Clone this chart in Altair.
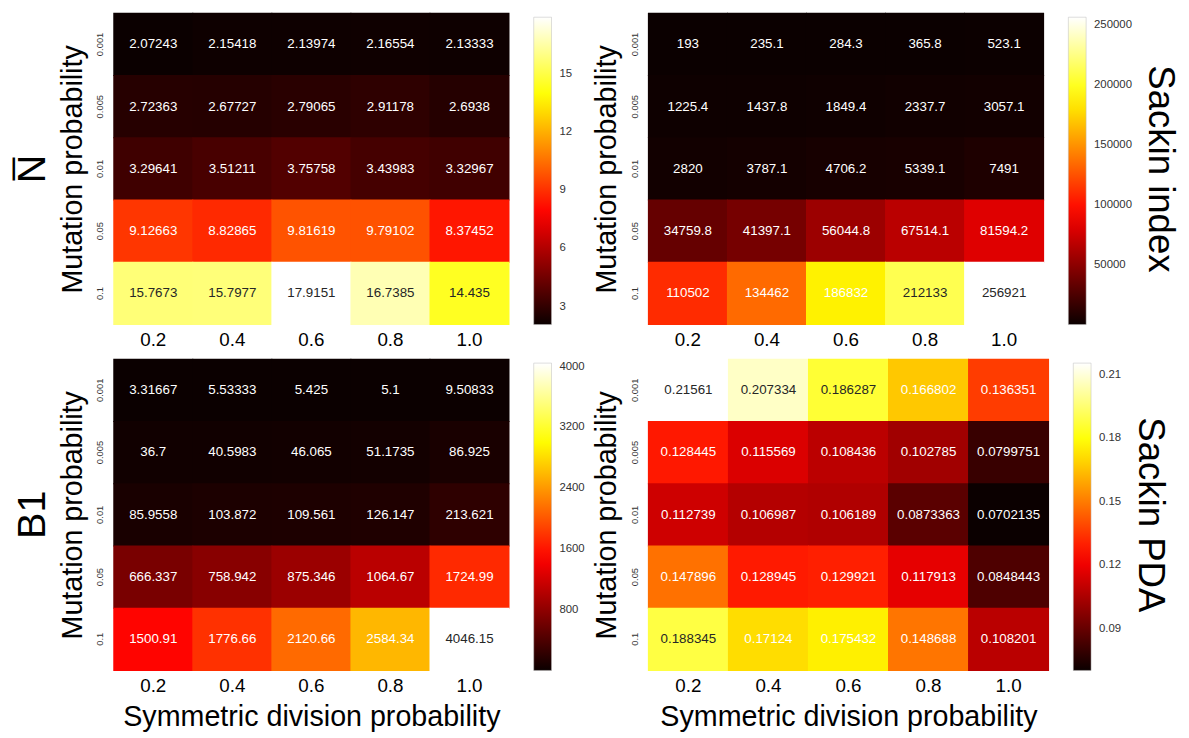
import altair as alt
import pandas as pd

FONT = "Liberation Sans"

# Tick labels
sym_labels = ["0.2", "0.4", "0.6", "0.8", "1.0"]
mut_labels = ["0.001", "0.005", "0.01", "0.05", "0.1"]

# Values: rows = mutation probability (top to bottom), cols = symmetric division probability
nbar_vals = [
    [2.07243, 2.15418, 2.13974, 2.16554, 2.13333],
    [2.72363, 2.67727, 2.79065, 2.91178, 2.6938],
    [3.29641, 3.51211, 3.75758, 3.43983, 3.32967],
    [9.12663, 8.82865, 9.81619, 9.79102, 8.37452],
    [15.7673, 15.7977, 17.9151, 16.7385, 14.435],
]
sackin_vals = [
    [193, 235.1, 284.3, 365.8, 523.1],
    [1225.4, 1437.8, 1849.4, 2337.7, 3057.1],
    [2820, 3787.1, 4706.2, 5339.1, 7491],
    [34759.8, 41397.1, 56044.8, 67514.1, 81594.2],
    [110502, 134462, 186832, 212133, 256921],
]
b1_vals = [
    [3.31667, 5.53333, 5.425, 5.1, 9.50833],
    [36.7, 40.5983, 46.065, 51.1735, 86.925],
    [85.9558, 103.872, 109.561, 126.147, 213.621],
    [666.337, 758.942, 875.346, 1064.67, 1724.99],
    [1500.91, 1776.66, 2120.66, 2584.34, 4046.15],
]
pda_vals = [
    [0.21561, 0.207334, 0.186287, 0.166802, 0.136351],
    [0.128445, 0.115569, 0.108436, 0.102785, 0.0799751],
    [0.112739, 0.106987, 0.106189, 0.0873363, 0.0702135],
    [0.147896, 0.128945, 0.129921, 0.117913, 0.0848443],
    [0.188345, 0.17124, 0.175432, 0.148688, 0.108201],
]

# Colorbar tick values
nbar_ticks = [3, 6, 9, 12, 15]
sackin_ticks = [50000, 100000, 150000, 200000, 250000]
b1_ticks = [800, 1600, 2400, 3200, 4000]
pda_ticks = [0.09, 0.12, 0.15, 0.18, 0.21]

# matplotlib "hot" colormap breakpoints
HOT_STOPS = [0.0, 0.365079, 0.746032, 1.0]
HOT_COLORS = ["#0b0000", "#ff0000", "#ffff00", "#ffffff"]


def panel(vals, w, h, ticks, fmt, left=None, right=None, xtitle=False):
    flat = [v for r in vals for v in r]
    lo, hi = min(flat), max(flat)
    rows = []
    for i, m in enumerate(mut_labels):
        for j, s in enumerate(sym_labels):
            v = vals[i][j]
            rows.append({"mut": m, "sym": s, "v": v, "norm": (v - lo) / (hi - lo)})
    df = pd.DataFrame(rows)
    dom = [lo + f * (hi - lo) for f in HOT_STOPS]

    x = alt.X(
        "sym:O", sort=sym_labels,
        title="Symmetric division probability" if xtitle else None,
        scale=alt.Scale(paddingInner=0, paddingOuter=0),
        axis=alt.Axis(labelAngle=0, labelFontSize=19, labelColor="#000", labelFont=FONT,
                      labelPadding=6, ticks=False, tickSize=0, domain=False,
                      titleFontSize=29, titleFont=FONT, titleFontWeight="normal",
                      titleColor="#000", titlePadding=8),
    )
    y = alt.Y(
        "mut:O", sort=mut_labels, title="Mutation probability",
        scale=alt.Scale(paddingInner=0, paddingOuter=0),
        axis=alt.Axis(labelAngle=270, labelAlign="center", labelBaseline="bottom",
                      labelFontSize=9.5, labelColor="#333", labelFont=FONT,
                      labelPadding=9, ticks=False, tickSize=0, domain=False,
                      titleFontSize=29, titleFont=FONT, titleFontWeight="normal",
                      titleColor="#000", titlePadding=8),
    )
    rect = alt.Chart(df).mark_rect(
        strokeWidth=0,
        width=alt.RelativeBandSize(1.012),
        height=alt.RelativeBandSize(1.015),
    ).encode(
        x=x, y=y,
        color=alt.Color(
            "v:Q",
            scale=alt.Scale(domain=dom, range=HOT_COLORS, interpolate="rgb"),
            legend=alt.Legend(
                type="gradient", orient="right", direction="vertical", title=None,
                values=ticks, format=fmt, offset=21, padding=4,
                gradientLength=h - 4, gradientThickness=18,
                gradientStrokeColor="#bbbbbb", gradientStrokeWidth=0.5,
                labelFontSize=11.5, labelColor="#333", labelFont=FONT, labelOffset=8,
            ),
        ),
    )
    text = alt.Chart(df).mark_text(fontSize=13.5, font=FONT).encode(
        x=alt.X("sym:O", sort=sym_labels),
        y=alt.Y("mut:O", sort=mut_labels),
        text=alt.Text("v:Q", format=".6~g"),
        color=alt.condition(alt.datum.norm > 0.75, alt.value("#262626"), alt.value("#ffffff")),
    )
    props = dict(width=w, height=h)
    if left is not None:
        props["title"] = alt.TitleParams(text=left, orient="left", fontSize=40, font=FONT,
                                         fontWeight="normal", color="#000", offset=6,
                                         anchor="middle", frame="group")
    if right is not None:
        props["title"] = alt.TitleParams(text=right, orient="right", fontSize=37, font=FONT,
                                         fontWeight="normal", color="#000", offset=5,
                                         anchor="middle", frame="group", angle=90)
    return alt.layer(rect, text).properties(**props)


p1 = panel(nbar_vals, 400, 315, nbar_ticks, "d", left="N\u0305")
p2 = panel(sackin_vals, 400, 315, sackin_ticks, "d", right="Sackin index")
p3 = panel(b1_vals, 400, 315, b1_ticks, "d", left="B1", xtitle=True)
p4 = panel(pda_vals, 405, 315, pda_ticks, ".2f", right="Sackin PDA", xtitle=True)

chart = alt.concat(p1, p2, p3, p4, columns=2, align="each",
                   spacing={"row": 9, "column": 4}).resolve_scale(
    color="independent"
).properties(
    padding={"left": 5, "top": 0, "right": 2, "bottom": 0}
).configure_view(stroke=None)

chart.save("out.html", embed_options={"renderer": "svg", "actions": False})
